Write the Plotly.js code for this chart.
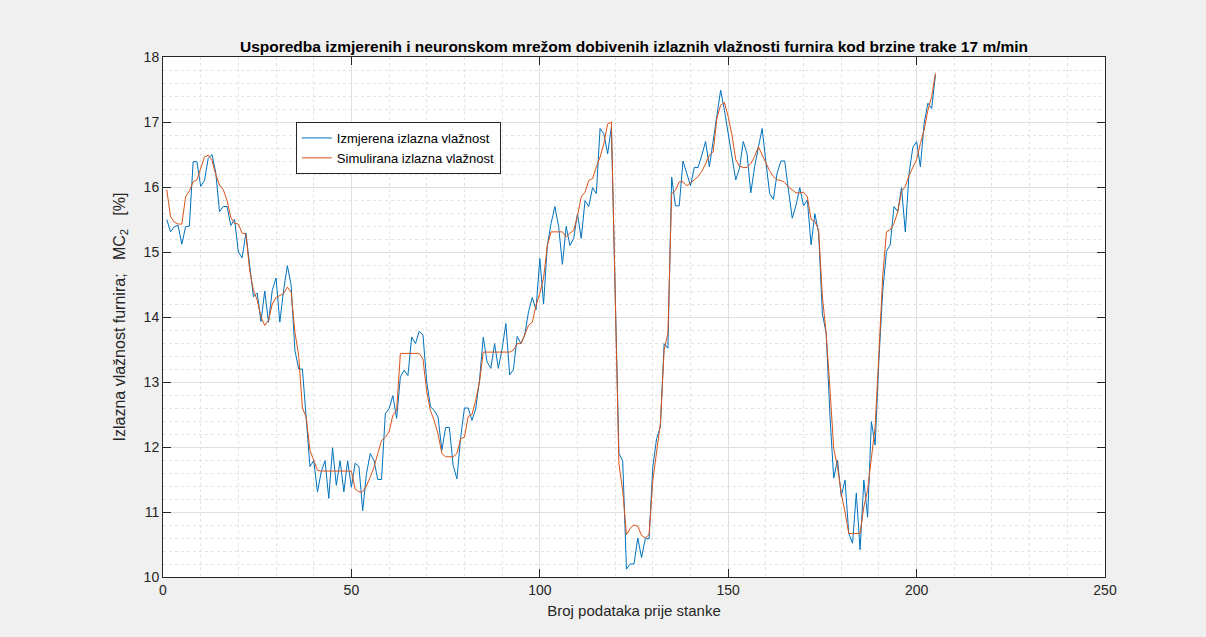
<!DOCTYPE html>
<html>
<head>
<meta charset="utf-8">
<script src="https://cdn.plot.ly/plotly-3.0.1.min.js"></script>
<style>html,body{margin:0;padding:0;background:#f0f0f0;}#chart{width:1206px;height:637px;}</style>
</head>
<body>
<div id="chart"></div>
<script>
// Sample index (Broj podataka prije stanke)
const sampleIndex = Array.from({length: 205}, (_, i) => i + 1);

// Izmjerena izlazna vlažnost (measured)
const measured = [
15.5,15.31,15.39,15.41,15.12,15.39,15.4,16.39,16.39,16.01,
16.1,16.44,16.5,16.22,15.62,15.7,15.7,15.41,15.5,15.0,
14.91,15.29,14.8,14.31,14.37,13.93,14.4,13.92,14.41,14.6,
13.92,14.41,14.79,14.49,13.49,13.2,13.2,12.41,11.7,11.79,
11.31,11.62,11.79,11.21,11.99,11.41,11.79,11.31,11.79,11.38,
11.75,11.7,11.02,11.59,11.9,11.79,11.5,11.5,12.51,12.59,
12.79,12.44,13.08,13.18,13.1,13.69,13.59,13.78,13.72,13.0,
12.62,12.56,12.46,11.95,12.3,12.3,11.72,11.51,12.15,12.6,
12.6,12.41,12.59,13.03,13.69,13.31,13.21,13.59,13.21,13.51,
13.9,13.11,13.19,13.7,13.59,13.72,14.08,14.3,14.11,14.9,
14.2,15.1,15.44,15.7,15.39,14.81,15.39,15.1,15.21,15.59,
15.21,15.79,15.7,15.99,15.9,16.9,16.82,16.51,16.92,14.4,
11.9,11.79,10.12,10.2,10.2,10.6,10.3,10.59,10.59,11.7,
12.13,12.31,13.59,13.52,16.15,15.71,15.71,16.4,16.21,16.02,
16.3,16.3,16.49,16.7,16.31,16.7,17.06,17.49,17.18,16.8,
16.42,16.11,16.29,16.7,16.51,15.91,16.31,16.62,16.9,16.39,
15.9,15.81,16.22,16.4,16.4,15.95,15.52,15.72,15.99,15.71,
15.8,15.11,15.59,15.29,14.05,13.75,12.49,11.52,11.8,11.24,
11.49,10.67,10.52,11.29,10.42,11.49,10.92,12.39,12.03,13.34,
14.39,15.01,15.11,15.7,15.62,15.99,15.31,16.21,16.61,16.7,
16.31,16.98,17.29,17.21,17.72
];

// Simulirana izlazna vlažnost (neural network output)
const simulated = [
15.96,15.54,15.46,15.43,15.43,15.85,15.94,16.08,16.11,16.28,
16.46,16.49,16.41,16.19,16.03,15.96,15.79,15.53,15.44,15.43,
15.29,15.28,14.72,14.41,14.26,14.0,13.87,13.95,14.2,14.3,
14.33,14.36,14.46,14.38,13.77,13.41,12.6,12.46,11.95,11.79,
11.64,11.63,11.63,11.63,11.63,11.63,11.63,11.63,11.63,11.63,
11.35,11.31,11.31,11.4,11.54,11.69,11.9,12.1,12.15,12.23,
12.49,12.56,13.44,13.44,13.44,13.44,13.44,13.44,13.35,12.85,
12.56,12.4,12.2,11.9,11.85,11.85,11.85,11.9,12.13,12.15,
12.47,12.5,12.72,13.0,13.46,13.46,13.46,13.46,13.46,13.46,
13.46,13.46,13.49,13.59,13.59,13.72,13.87,13.92,14.18,14.36,
14.6,15.1,15.31,15.31,15.31,15.31,15.23,15.29,15.33,15.56,
15.85,15.92,16.1,16.13,16.31,16.46,16.67,16.97,17.0,14.4,
11.74,11.33,10.65,10.75,10.8,10.78,10.64,10.6,10.65,11.49,
11.95,12.36,13.49,13.75,15.9,15.95,16.08,16.08,16.02,16.06,
16.11,16.16,16.24,16.36,16.49,16.54,17.06,17.26,17.3,17.08,
16.8,16.42,16.32,16.3,16.3,16.36,16.47,16.62,16.49,16.36,
16.25,16.16,16.11,16.1,16.07,16.0,15.96,15.91,15.91,15.92,
15.85,15.5,15.47,15.34,14.31,13.75,12.9,11.98,11.7,11.29,
11.0,10.67,10.67,10.67,10.67,11.08,11.34,11.83,12.31,13.44,
14.62,15.31,15.34,15.44,15.62,15.93,16.01,16.18,16.31,16.42,
16.67,16.88,17.18,17.39,17.75
];

const xTickVals = [0, 50, 100, 150, 200, 250];
const yTickVals = [10, 11, 12, 13, 14, 15, 16, 17, 18];

const seriesNames = ['Izmjerena izlazna vlažnost', 'Simulirana izlazna vlažnost'];
const chartTitle = 'Usporedba izmjerenih i neuronskom mrežom dobivenih izlaznih vlažnosti furnira kod brzine trake 17 m/min';
const xTitle = 'Broj podataka prije stanke';
const yTitle = 'Izlazna vlažnost furnira;&nbsp;&nbsp;&nbsp;MC<sub>2</sub>&nbsp;&nbsp;&nbsp;[%]';

const FONT = 'Liberation Sans, Arial, Helvetica, sans-serif';
const AX = '#262626';

const traces = [
  {x: sampleIndex, y: measured, type: 'scatter', mode: 'lines', name: seriesNames[0],
   line: {color: '#0072BD', width: 1}},
  {x: sampleIndex, y: simulated, type: 'scatter', mode: 'lines', name: seriesNames[1],
   line: {color: '#D95319', width: 1}}
];

const axisCommon = {
  showline: true, linecolor: AX, linewidth: 1, mirror: 'ticks',
  ticks: 'inside', ticklen: 8, tickcolor: AX, tickwidth: 1,
  showgrid: true, gridcolor: '#dfdfdf', gridwidth: 1, zeroline: false,
  tickfont: {family: FONT, size: 14, color: AX}
};

const layout = {
  width: 1206, height: 637,
  paper_bgcolor: '#f0f0f0', plot_bgcolor: '#ffffff',
  margin: {l: 163, r: 101, t: 57, b: 60},
  showlegend: true,
  title: {text: '<b>' + chartTitle + '</b>', font: {family: FONT, size: 15.5, color: '#000'},
          x: 0.5, xref: 'paper', xanchor: 'center', y: 1, yref: 'paper', yanchor: 'bottom', pad: {b: 5}},
  xaxis: Object.assign({}, axisCommon, {
    range: [0, 250], tickmode: 'array', tickvals: xTickVals,
    minor: {dtick: 10, showgrid: true, gridcolor: '#e3e3e3', griddash: 'dot', gridwidth: 1, ticks: ''},
    title: {text: xTitle, font: {family: FONT, size: 15, color: AX}, standoff: 8}
  }),
  yaxis: Object.assign({}, axisCommon, {
    range: [10, 18], tickmode: 'array', tickvals: yTickVals,
    minor: {dtick: 0.2, showgrid: true, gridcolor: '#e3e3e3', griddash: 'dot', gridwidth: 1, ticks: ''},
    title: {text: yTitle, font: {family: FONT, size: 16, color: AX}, standoff: 14}
  }),
  legend: {x: 0.141, y: 0.875, xanchor: 'left', yanchor: 'top', bgcolor: '#ffffff',
           bordercolor: AX, borderwidth: 1, font: {family: FONT, size: 13, color: '#000'},
           tracegroupgap: 0, itemwidth: 30}
};

Plotly.newPlot('chart', traces, layout, {displayModeBar: false, staticPlot: true});
</script>
</body>
</html>
